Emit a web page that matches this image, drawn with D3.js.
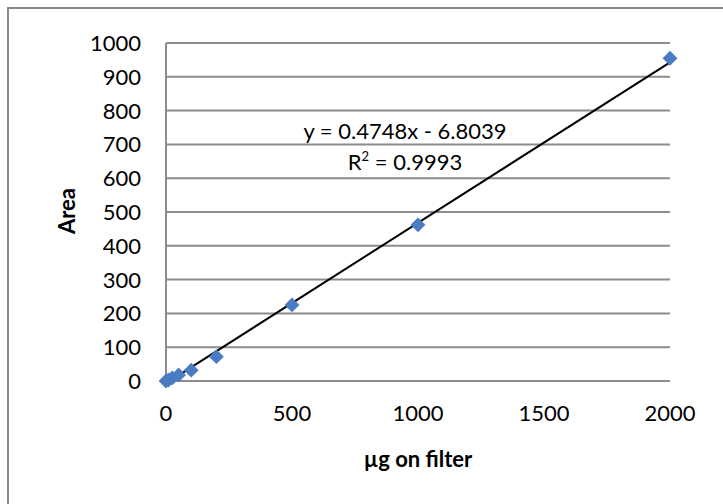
<!DOCTYPE html>
<html><head><meta charset="utf-8">
<script src="https://cdn.jsdelivr.net/npm/d3@7"></script>
<style>body{margin:0;background:#fff}svg{display:block}text{font-family:Lato,"Open Sans",sans-serif;fill:#000}</style>
</head><body>
<svg id="c" width="723" height="504"></svg>
<script>
const xValues = [0, 10, 25, 50, 100, 200, 500, 1000, 2000];
const areaValues = [0, 3, 9, 18, 32, 72, 225, 462, 955];
const yTicks = [0, 100, 200, 300, 400, 500, 600, 700, 800, 900, 1000];
const xTicks = [0, 500, 1000, 1500, 2000];
const slope = 0.4748, intercept = -6.8039;

const svg = d3.select("#c");
svg.append("rect").attr("x", 8).attr("y", 8).attr("width", 740).attr("height", 520)
  .attr("fill", "#fff").attr("stroke", "#8a8a8a").attr("stroke-width", 2);

const x = d3.scaleLinear().domain([0, 2000]).range([166, 670]);
const y = d3.scaleLinear().domain([0, 1000]).range([381, 43]);

const grid = svg.append("g");
grid.selectAll("line").data(yTicks).join("line")
  .attr("x1", x(0)).attr("x2", x(2000)).attr("y1", d => y(d)).attr("y2", d => y(d))
  .attr("stroke", "#8c8c8c").attr("stroke-width", 2);
svg.append("line").attr("x1", x(0)).attr("x2", x(0)).attr("y1", y(0)).attr("y2", y(1000))
  .attr("stroke", "#8c8c8c").attr("stroke-width", 2);

svg.append("g").selectAll("text").data(yTicks).join("text")
  .attr("x", 141).attr("y", d => y(d)).attr("dy", "0.36em").attr("text-anchor", "end")
  .attr("font-size", 22).text(d => d);
svg.append("g").selectAll("text").data(xTicks).join("text")
  .attr("x", d => x(d)).attr("y", 421).attr("text-anchor", "middle")
  .attr("font-size", 22).text(d => d);

svg.append("text").attr("x", 418).attr("y", 467).attr("text-anchor", "middle")
  .attr("font-size", 22).attr("font-weight", "bold").text("µg on filter");
svg.append("text").attr("transform", "translate(75,211) rotate(-90)").attr("text-anchor", "middle")
  .attr("font-size", 22).attr("font-weight", "bold").text("Area");

// trendline
const x0 = d3.min(xValues), x1 = d3.max(xValues);
svg.append("line").attr("x1", x(x0)).attr("y1", y(slope * x0 + intercept))
  .attr("x2", x(x1)).attr("y2", y(slope * x1 + intercept))
  .attr("stroke", "#000").attr("stroke-width", 2);

const pts = xValues.map((v, i) => [v, areaValues[i]]);
svg.append("g").selectAll("path").data(pts).join("path")
  .attr("d", d3.symbol(d3.symbolSquare, 110)())
  .attr("transform", d => `translate(${x(d[0])},${y(d[1])}) rotate(45)`)
  .attr("fill", "#4a7cc4");

svg.append("text").attr("x", 405).attr("y", 139).attr("text-anchor", "middle")
  .attr("font-size", 22).text("y = 0.4748x - 6.8039");
const r = svg.append("text").attr("x", 405).attr("y", 170).attr("text-anchor", "middle").attr("font-size", 22);
r.append("tspan").text("R");
r.append("tspan").attr("font-size", 13).attr("dy", -9).text("2");
r.append("tspan").attr("dy", 9).text(" = 0.9993");
</script>
</body></html>
